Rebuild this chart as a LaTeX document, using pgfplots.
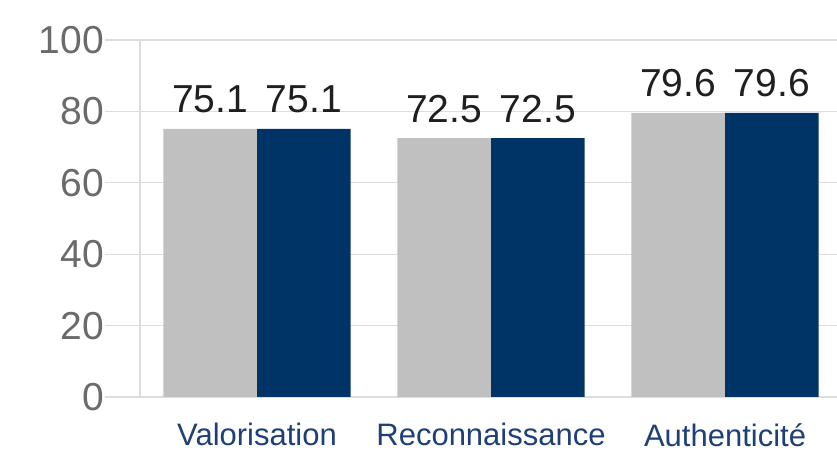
\documentclass[border=0pt]{standalone}
\usepackage{fontspec}
\setmainfont{Liberation Sans}
\usepackage{pgfplots}
\pgfplotsset{compat=1.18}
\definecolor{bargray}{HTML}{C0C0C0}
\definecolor{barnavy}{HTML}{003366}
\definecolor{gridc}{HTML}{DDDDDD}
\definecolor{tickc}{HTML}{6A6A6A}
\definecolor{catc}{HTML}{1E3F78}
\begin{document}
\begin{tikzpicture}
\path[use as bounding box] (-140bp,-56bp) rectangle (697bp,397bp);
\begin{axis}[
  at={(0,0)}, anchor=south west,
  width=697bp, height=357bp, scale only axis,
  xmin=0, xmax=2.9786, ymin=0, ymax=100,
  ybar=0pt, bar width=0.4,
  axis line style={gridc, line width=1.2bp},
  axis x line*=bottom, axis y line*=left,
  ytick={0,20,40,60,80,100},
  ymajorgrids, grid style={gridc, line width=1.2bp},
  tick align=outside,
  ytick style={gridc, line width=1.2bp},
  major tick length=35bp,
  xtick={0.5,1.5,2.5},
  xticklabels={Valorisation,Reconnaissance,Authenticité},
  xtick style={draw=none},
  /pgf/number format/assume math mode=true,
  yticklabel style={font=\fontsize{39bp}{44bp}\selectfont, text=tickc, inner sep=1bp},
  xticklabel style={font=\fontsize{31bp}{36bp}\selectfont, text=catc, inner sep=1bp, text depth=0pt, yshift=10bp},
  nodes near coords,
  nodes near coords style={font=\fontsize{39bp}{46bp}\selectfont, text=black!88, /pgf/number format/fixed, /pgf/number format/precision=1, /pgf/number format/fixed zerofill, yshift=12bp},
]
\addplot[fill=bargray, draw=none] coordinates {(0.5,75.1) (1.5,72.5) (2.5,79.6)};
\addplot[fill=barnavy, draw=none] coordinates {(0.5,75.1) (1.5,72.5) (2.5,79.6)};
\end{axis}
\end{tikzpicture}
\end{document}
